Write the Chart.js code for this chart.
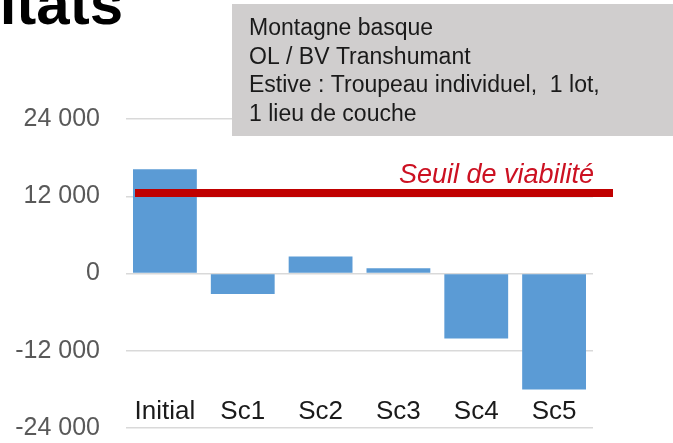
<!DOCTYPE html>
<html>
<head>
<meta charset="utf-8">
<script src="https://cdn.jsdelivr.net/npm/chart.js@4/dist/chart.umd.min.js"></script>
<style>
html,body{margin:0;padding:0;background:#fff;}
#wrap{position:relative;width:673px;height:443px;}
</style>
</head>
<body>
<div id="wrap"><canvas id="c" width="673" height="443"></canvas></div>
<script>
const categories = ['Initial', 'Sc1', 'Sc2', 'Sc3', 'Sc4', 'Sc5'];
const values = [16200, -3200, 2650, 800, -10100, -18000];
const threshold = 12500;
const thresholdLabel = 'Seuil de viabilité';
const yTicks = [-24000, -12000, 0, 12000, 24000];
const boxLines = ['Montagne basque', 'OL / BV Transhumant', 'Estive : Troupeau individuel,  1 lot,', '1 lieu de couche'];
const titleText = 'Résultats';

function fmt(v) {
  const s = Math.abs(v).toString().replace(/\B(?=(\d{3})+(?!\d))/g, ' ');
  return (v < 0 ? '-' : '') + s;
}

const FONT = '"Liberation Sans", Arial, sans-serif';

const overlay = {
  id: 'overlay',
  afterDatasetsDraw(chart) {
    const ctx = chart.ctx;
    const xs = chart.scales.x, ys = chart.scales.y;
    const ca = chart.chartArea;
    ctx.save();
    // category labels inside the plot
    ctx.fillStyle = '#1a1a1a';
    ctx.font = '26px ' + FONT;
    ctx.textAlign = 'center';
    ctx.textBaseline = 'alphabetic';
    const baseY = ys.getPixelForValue(yTicks[0]) - 9;
    categories.forEach((c, i) => ctx.fillText(c, xs.getPixelForValue(i), baseY));
    // threshold line
    const ty = ys.getPixelForValue(threshold);
    ctx.strokeStyle = '#C00000';
    ctx.lineWidth = 8;
    ctx.beginPath();
    ctx.moveTo(ca.left + 9, ty);
    ctx.lineTo(ca.right + 20, ty);
    ctx.stroke();
    ctx.fillStyle = '#CC1122';
    ctx.font = 'italic 27px ' + FONT;
    ctx.textAlign = 'right';
    ctx.fillText(thresholdLabel, ca.right + 1, ty - 10);
    // info box
    ctx.fillStyle = '#D0CECE';
    ctx.fillRect(232, 4, 441, 132);
    ctx.fillStyle = '#1a1a1a';
    ctx.font = '23px ' + FONT;
    ctx.textAlign = 'left';
    boxLines.forEach((l, i) => ctx.fillText(l, 249, 35 + i * 28.5));
    // title (cropped)
    ctx.font = 'bold 60px ' + FONT;
    ctx.textAlign = 'right';
    ctx.fillStyle = '#000';
    ctx.fillText(titleText, 123, 24);
    ctx.restore();
  }
};

new Chart(document.getElementById('c'), {
  type: 'bar',
  data: {
    labels: categories,
    datasets: [{
      data: values,
      backgroundColor: '#5B9BD5',
      borderWidth: 0,
      barPercentage: 0.82,
      categoryPercentage: 1.0
    }]
  },
  options: {
    responsive: false,
    animation: false,
    events: [],
    layout: { padding: { top: 119, bottom: 15, left: 0, right: 80 } },
    plugins: { legend: { display: false }, tooltip: { enabled: false } },
    scales: {
      x: { display: false, offset: true },
      y: {
        min: yTicks[0],
        max: yTicks[yTicks.length - 1],
        afterBuildTicks(scale) { scale.ticks = yTicks.map(v => ({ value: v })); },
        afterFit(scale) { scale.width = 126; scale.paddingTop = 0; scale.paddingBottom = 0; },
        border: { display: false },
        grid: { color: '#D9D9D9', lineWidth: 1.5, drawTicks: false },
        ticks: {
          padding: 26,
          color: '#595959',
          font: { family: FONT, size: 25 },
          callback: v => fmt(v)
        }
      }
    }
  },
  plugins: [overlay]
});
</script>
</body>
</html>
